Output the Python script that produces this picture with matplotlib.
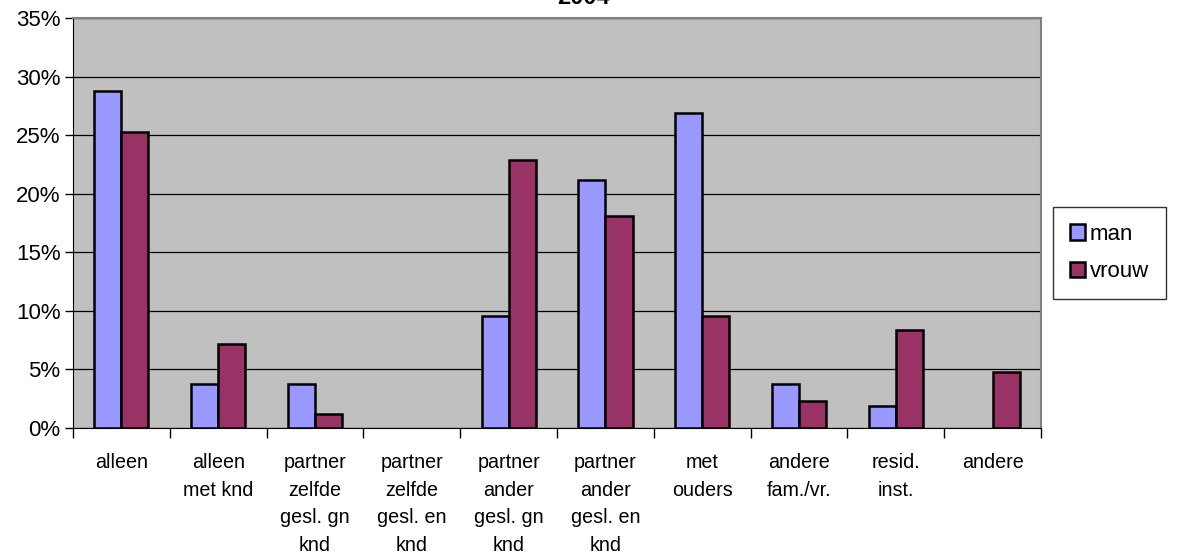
import numpy as np
import matplotlib.pyplot as plt
from matplotlib.ticker import FixedLocator, NullFormatter

plt.rcParams['font.family'] = ['Liberation Sans', 'DejaVu Sans']

categories = ["alleen", "alleen\nmet knd", "partner\nzelfde\ngesl. gn\nknd", "partner\nzelfde\ngesl. en\nknd",
              "partner\nander\ngesl. gn\nknd", "partner\nander\ngesl. en\nknd", "met\nouders",
              "andere\nfam./vr.", "resid.\ninst.", "andere"]
man = [28.8, 3.8, 3.8, 0, 9.6, 21.2, 26.9, 3.8, 1.9, 0]
vrouw = [25.3, 7.2, 1.2, 0, 22.9, 18.1, 9.6, 2.3, 8.4, 4.8]

fig = plt.figure(figsize=(11.83, 5.52), dpi=100)
ax = fig.add_axes([0.0617, 0.2246, 0.8183, 0.7424])
ax.set_facecolor('#C0C0C0')

x = np.arange(len(categories))
w = 0.28
b1 = ax.bar(x - w / 2, man, w, color='#9999FF', edgecolor='black', linewidth=1.8, label='man', zorder=3)
b2 = ax.bar(x + w / 2, vrouw, w, color='#993366', edgecolor='black', linewidth=1.8, label='vrouw', zorder=3)
# empty bars are not drawn in the original
for bars in (b1, b2):
    for r in bars:
        if r.get_height() == 0:
            r.set_visible(False)

ax.set_xlim(-0.5, len(categories) - 0.5)
ax.set_ylim(0, 35)
ax.set_yticks(range(0, 36, 5))
ax.set_yticklabels([f"{v}%" for v in range(0, 36, 5)], fontsize=16)
ax.yaxis.grid(True, color='black', linewidth=0.9, zorder=1)

ax.set_xticks(x)
ax.set_xticklabels(categories, fontsize=14.2, linespacing=1.58, va='top')
ax.tick_params(axis='x', which='major', length=0, pad=18)
ax.xaxis.set_minor_locator(FixedLocator(np.arange(-0.5, len(categories), 1.0)))
ax.xaxis.set_minor_formatter(NullFormatter())
ax.tick_params(axis='x', which='minor', length=7, width=1, color='black')
ax.tick_params(axis='y', length=6, width=1, pad=3)

for side in ['top', 'right']:
    ax.spines[side].set_color('#808080')
    ax.spines[side].set_linewidth(1.5)
ax.spines['left'].set_color('black')
ax.spines['bottom'].set_color('black')

leg = fig.legend(handles=[b1, b2], labels=['man', 'vrouw'], loc='center left',
                 bbox_to_anchor=(1053 / 1183, 1 - 253 / 552), fontsize=16, frameon=True,
                 fancybox=False, edgecolor='black', handlelength=0.7, handleheight=0.7,
                 handletextpad=0.2, labelspacing=0.75, borderpad=0.75, borderaxespad=0)
leg.get_frame().set_linewidth(1)

fig.text(0.493, 1.004, "2004", ha='center', va='center', fontsize=17, fontweight='bold')

fig.savefig('out.png', dpi=100)
